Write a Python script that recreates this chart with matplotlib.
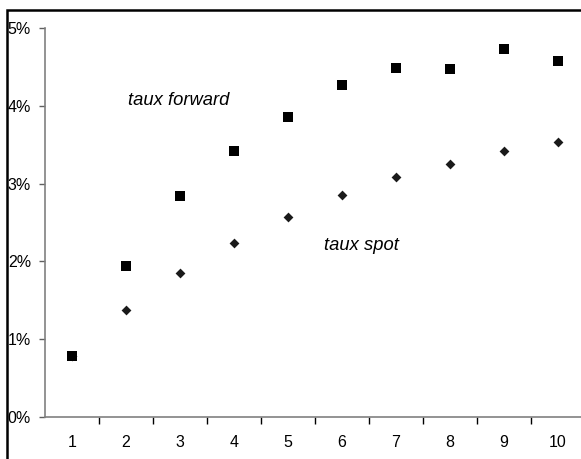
import matplotlib
matplotlib.use("Agg")
import matplotlib.pyplot as plt
from matplotlib.patches import Rectangle
from matplotlib.ticker import FixedLocator, PercentFormatter

maturites = [1, 2, 3, 4, 5, 6, 7, 8, 9, 10]
taux_forward = [0.78, 1.94, 2.84, 3.42, 3.86, 4.27, 4.49, 4.47, 4.73, 4.58]
taux_spot = [0.78, 1.38, 1.85, 2.24, 2.57, 2.85, 3.08, 3.25, 3.42, 3.53]

plt.rcParams['font.family'] = ['Liberation Sans', 'DejaVu Sans']

W, H = 581, 459
fig = plt.figure(figsize=(W / 100, H / 100), dpi=100)

# cadre du graphique (déborde à droite et en bas)
fig.patches.append(Rectangle((7 / W, -0.1), 1.2, 1 - 10 / H + 0.1,
                             transform=fig.transFigure, fill=False,
                             edgecolor='black', linewidth=1.8))

ax = fig.add_axes([45 / W, 42 / H, 540 / W, 389 / H])
ax.scatter(maturites, taux_spot, marker='D', s=5.0 ** 2, color='#1a1a1a',
           linewidths=0, zorder=3)
ax.scatter(maturites, taux_forward, marker='s', s=7.2 ** 2, color='black',
           linewidths=0, zorder=4)

ax.set_xlim(0.5, 10.5)
ax.set_ylim(0, 5)

ax.spines['top'].set_visible(False)
ax.spines['right'].set_visible(False)
for side in ('left', 'bottom'):
    ax.spines[side].set_color('#808080')
    ax.spines[side].set_linewidth(1.2)

ax.set_yticks([0, 1, 2, 3, 4, 5])
ax.yaxis.set_major_formatter(PercentFormatter(decimals=0))
ax.tick_params(axis='y', direction='out', length=4, width=1, color='#606060',
               pad=6, labelsize=11.5)

ax.set_xticks(maturites)
ax.xaxis.set_minor_locator(FixedLocator([x + 0.5 for x in maturites[:-1]]))
ax.tick_params(axis='x', which='major', length=0, pad=13, labelsize=11.5)
ax.tick_params(axis='x', which='minor', direction='out', length=5, width=1,
               color='black')

ax.text(2.97, 4.07, 'taux forward', style='italic', fontsize=13.2,
        ha='center', va='center')
ax.text(6.36, 2.20, 'taux spot', style='italic', fontsize=13.2,
        ha='center', va='center')

fig.savefig('out.png', dpi=100)
